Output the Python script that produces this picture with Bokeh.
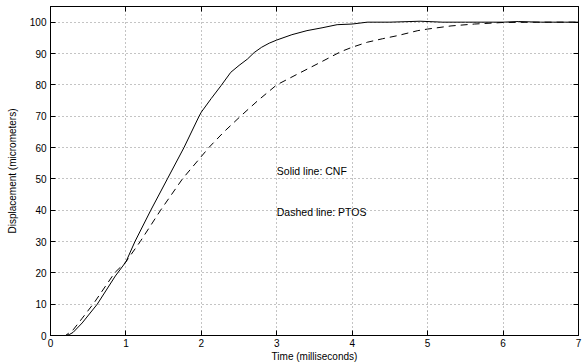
from bokeh.plotting import figure
from bokeh.models import LinearAxis, Range1d, FixedTicker, Label
from bokeh.embed import file_html
from bokeh.resources import INLINE

# CNF (solid) response
cnf_t = [0.0, 0.2, 0.25, 0.3, 0.42, 0.62, 0.86, 1.0, 1.12, 1.33, 1.55, 1.77, 1.97, 2.0, 2.13, 2.26, 2.39, 2.5, 2.61, 2.7, 2.8, 2.9, 3.0, 3.2, 3.4, 3.6, 3.8, 4.0, 4.2, 4.5, 4.9, 5.2, 5.5, 6.0, 6.2, 6.5, 7.0]
cnf_y = [0.0, 0.0, 0.3, 1.0, 4.0, 10.0, 19.0, 23.5, 30.0, 40.0, 50.0, 60.0, 70.0, 71.3, 75.6, 79.7, 84.0, 86.2, 88.2, 90.3, 92.0, 93.3, 94.3, 96.0, 97.3, 98.2, 99.2, 99.4, 100.0, 100.0, 100.3, 100.0, 100.0, 100.0, 100.2, 100.0, 100.0]

# PTOS (dashed) response
ptos_t = [0.0, 0.2, 0.3, 0.42, 0.58, 0.85, 1.0, 1.19, 1.46, 1.75, 2.1, 2.3, 2.52, 2.75, 3.0, 3.28, 3.58, 3.85, 4.0, 4.2, 4.4, 4.6, 4.87, 5.0, 5.31, 5.62, 6.0, 6.5, 7.0]
ptos_y = [0.0, 0.0, 1.8, 5.5, 10.5, 20.0, 23.5, 30.0, 40.0, 50.0, 60.0, 65.0, 70.0, 75.0, 80.0, 83.5, 87.2, 90.6, 92.0, 93.6, 94.7, 95.7, 97.3, 97.8, 98.8, 99.4, 99.9, 100.0, 100.0]

x_ticks = [0, 1, 2, 3, 4, 5, 6, 7]
y_ticks = [0, 10, 20, 30, 40, 50, 60, 70, 80, 90, 100]

FONT = "Liberation Sans"

p = figure(width=585, height=364, output_backend="svg", toolbar_location=None,
           x_range=Range1d(0, 7), y_range=Range1d(0, 105),
           x_axis_label="Time (milliseconds)",
           y_axis_label="Displacement (micrometers)")
p.min_border_left = 50
p.min_border_right = 7
p.min_border_top = 6
p.min_border_bottom = 26
p.background_fill_color = "white"
p.border_fill_color = "white"
p.outline_line_color = "black"
p.outline_line_width = 1

def style_axis(ax, show_labels=True):
    ax.axis_line_color = "black"
    ax.major_tick_line_color = "black"
    ax.major_tick_in = 5
    ax.major_tick_out = 0
    ax.minor_tick_line_color = None
    ax.major_label_text_font = FONT
    if show_labels:
        ax.major_label_text_font_size = "10px"
        ax.major_label_text_color = "black"
    else:
        ax.major_label_text_font_size = "0px"
        ax.major_label_text_color = None
        ax.major_label_standoff = 0
    ax.axis_label_text_font = FONT
    ax.axis_label_text_font_size = "10px"
    ax.axis_label_text_font_style = "normal"
    ax.axis_label_text_color = "black"

xa = p.xaxis[0]
xa.ticker = FixedTicker(ticks=x_ticks)
style_axis(xa)
xa.major_label_standoff = 3
xa.axis_label_standoff = 1

ya = p.yaxis[0]
ya.ticker = FixedTicker(ticks=y_ticks)
style_axis(ya)
ya.major_label_standoff = 4
ya.axis_label_standoff = 9

top = LinearAxis(ticker=FixedTicker(ticks=x_ticks))
style_axis(top, False)
p.add_layout(top, "above")

right = LinearAxis(ticker=FixedTicker(ticks=y_ticks))
style_axis(right, False)
p.add_layout(right, "right")

for g in (p.xgrid[0], p.ygrid[0]):
    g.grid_line_color = "#888888"
    g.grid_line_dash = "1 3"
    g.grid_line_width = 1
p.xgrid[0].ticker = FixedTicker(ticks=x_ticks)
p.ygrid[0].ticker = FixedTicker(ticks=y_ticks)

p.line(cnf_t, cnf_y, line_color="black", line_width=1)
p.line(ptos_t, ptos_y, line_color="black", line_width=1, line_dash="7 5")

p.add_layout(Label(x=3.0, y=52.6, text="Solid line: CNF", text_font=FONT,
                   text_font_size="10.5px", text_baseline="middle", text_color="black"))
p.add_layout(Label(x=3.0, y=39.5, text="Dashed line: PTOS", text_font=FONT,
                   text_font_size="10.5px", text_baseline="middle", text_color="black"))

open("out.html", "w").write(file_html(p, INLINE))
